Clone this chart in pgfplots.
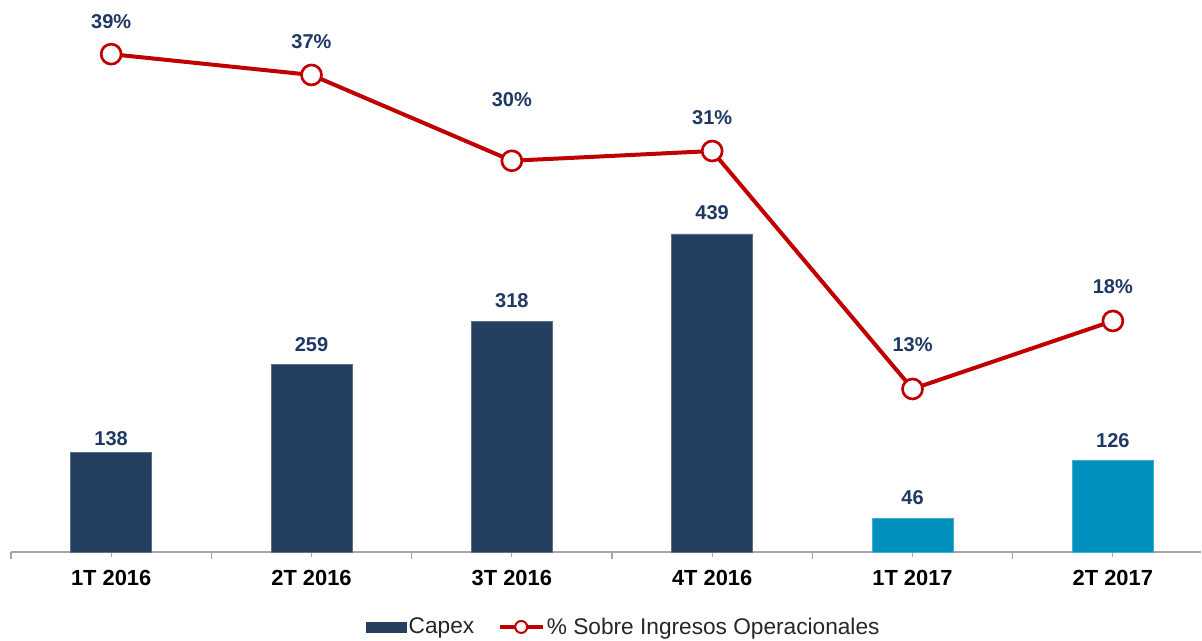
\documentclass[border=0pt]{standalone}
\usepackage{fontspec}
\setmainfont{Liberation Sans}
\usepackage{pgfplots}
\usepackage{pgfplotstable}
\pgfplotsset{compat=1.18}

\definecolor{capex}{HTML}{243F60}
\definecolor{capexlight}{HTML}{0091BF}
\definecolor{linered}{HTML}{C00000}
\definecolor{labelblue}{HTML}{1F3864}
\definecolor{axisgray}{HTML}{A6A6A6}

% capex, 2016 quarters
\pgfplotstableread{
x  y    off
0  138  13
1  259  20
2  318  21
3  439  21
}\capexA
% capex, 2017 quarters
\pgfplotstableread{
x  y    off
4  46   21
5  126  20
}\capexB
% capex as % of operating income
\pgfplotstableread{
x  y      lab  off
0  38.6   39   33
1  37.0   37   33
2  30.4   30   61
3  31.15  31   33
4  12.85  13   44
5  18.08  18   34
}\pct

\begin{document}
\begin{tikzpicture}
\path[use as bounding box] (-8.25pt,-66pt) rectangle (893.25pt,414pt);
\begin{axis}[
  scale only axis, width=892.5pt, height=410.25pt,
  at={(0pt,0pt)}, anchor=south west,
  xmin=-0.5, xmax=5.44, ymin=0, ymax=755,
  axis x line*=bottom, hide y axis,
  axis line style={axisgray, line width=1.1pt},
  xtick={0,...,5},
  xticklabels={1T 2016,2T 2016,3T 2016,4T 2016,1T 2017,2T 2017},
  minor xtick={-0.5,0.5,...,5.5},
  tick align=outside,
  major tick length=3.75pt, minor tick length=5.25pt,
  tick style={axisgray, line width=0.9pt},
  xticklabel style={font=\fontsize{16.4}{18}\selectfont\bfseries, yshift=-6.5pt},
  clip=false,
  ybar, bar width=60.75pt,
  nodes near coords,
  /pgf/number format/assume math mode=true,
  visualization depends on={\thisrow{off} \as \off},
  every node near coord/.append style={anchor=center, yshift=\off*0.75pt,
    text=labelblue, font=\fontsize{15}{18}\selectfont\bfseries},
]
\addplot[fill=capex, draw=capex!75!white, line width=0.6pt, bar shift=0pt] table[x=x,y=y] {\capexA};
\addplot[fill=capexlight, draw=capexlight!75!white, line width=0.6pt, bar shift=0pt] table[x=x,y=y] {\capexB};
\end{axis}

\begin{axis}[
  scale only axis, width=892.5pt, height=410.25pt,
  at={(0pt,0pt)}, anchor=south west,
  xmin=-0.5, xmax=5.44, ymin=0.31, ymax=42.38,
  hide x axis, hide y axis, clip=false,
  /pgf/number format/assume math mode=true,
  legend style={draw=none, fill=none, at={(0.515,-0.137)}, anchor=center,
    legend columns=2, font=\fontsize{17}{20}\selectfont, text=black!85,
    /tikz/every even column/.append style={column sep=16pt}},
]
\addlegendimage{legend image code/.code={\fill[capex] (0pt,-3.75pt) rectangle (30pt,3.75pt);}}
\addlegendentry{Capex}
\addplot[linered, line width=3pt, mark=*, mark size=7.5pt,
  mark options={fill=white, draw=linered, line width=2pt},
  nodes near coords={\pgfmathprintnumber{\pgfplotspointmeta}\%},
  point meta=\thisrow{lab},
  visualization depends on={\thisrow{off} \as \off},
  every node near coord/.append style={anchor=center, yshift=\off*0.75pt,
    text=labelblue, font=\fontsize{15}{18}\selectfont\bfseries},
  legend image code/.code={
    \draw[linered, line width=2.5pt] (0pt,0pt) -- (32pt,0pt);
    \draw[linered, fill=white, line width=1.5pt] (16pt,0pt) circle (4.5pt);}
] table[x=x,y=y] {\pct};
\addlegendentry{\% Sobre Ingresos Operacionales}
\end{axis}
\end{tikzpicture}
\end{document}
